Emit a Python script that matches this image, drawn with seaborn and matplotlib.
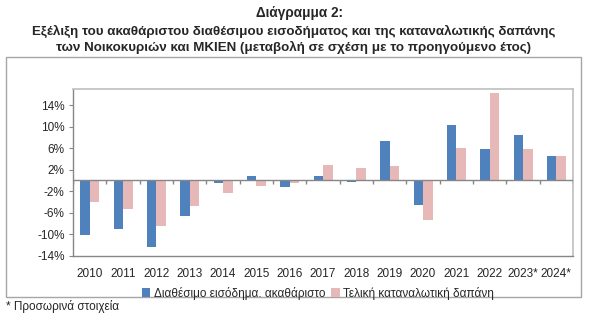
import matplotlib
matplotlib.use("Agg")
import matplotlib.pyplot as plt
import seaborn as sns
import pandas as pd
import numpy as np
from matplotlib.patches import Rectangle, Patch

years = ["2010", "2011", "2012", "2013", "2014", "2015", "2016", "2017",
         "2018", "2019", "2020", "2021", "2022", "2023*", "2024*"]
income = [-10.2, -9.1, -12.3, -6.6, -0.5, 0.8, -1.2, 0.8, -0.25, 7.3, -4.5, 10.3, 5.8, 8.5, 4.5]
spending = [-4.0, -5.3, -8.5, -4.8, -2.3, -1.0, -0.5, 2.8, 2.3, 2.7, -7.3, 6.1, 16.2, 5.8, 4.5]
series_names = ["Διαθέσιμο εισόδημα. ακαθάριστο", "Τελική καταναλωτική δαπάνη"]
yticks = [-14, -10, -6, -2, 2, 6, 10, 14]
colors = ["#4F81BD", "#E6B9B8"]

sns.set_style("white")
plt.rcParams["font.family"] = ["Liberation Sans", "DejaVu Sans"]

df = pd.DataFrame({
    "year": years * 2,
    "value": income + spending,
    "series": [series_names[0]] * len(years) + [series_names[1]] * len(years),
})

W, H = 599, 321
fig = plt.figure(figsize=(W / 100, H / 100), dpi=100)
ax = fig.add_axes([73 / W, (H - 255.7) / H, 500 / W, (255.7 - 89) / H])

sns.barplot(data=df, x="year", y="value", hue="series", palette=colors,
            width=0.57, ax=ax, legend=False, saturation=1, gap=0,
            edgecolor="none")

ax.set_ylim(-14, 17)
ax.set_xlim(-0.5, len(years) - 0.5)
ax.set_yticks(yticks)
ax.set_yticklabels([f"{t}%" for t in yticks], fontsize=8.5)
ax.set_xticks(range(len(years)))
ax.set_xticklabels(years, fontsize=8.5)
ax.tick_params(axis="x", length=0, pad=9)
ax.tick_params(axis="y", length=3, color="#868686", left=True, pad=3)
ax.set_xlabel("")
ax.set_ylabel("")

for s in ["left", "bottom"]:
    ax.spines[s].set_color("#868686")
    ax.spines[s].set_linewidth(1.0)
for s in ["top", "right"]:
    ax.spines[s].set_color("#BFBFBF")
    ax.spines[s].set_linewidth(1.2)

# zero axis line with category boundary ticks
ax.axhline(0, color="#868686", lw=1.0, zorder=3)
bounds = np.arange(len(years) + 1) - 0.5
ax.vlines(bounds, -0.6, 0, color="#868686", lw=1.0, zorder=3)

# legend
handles = [Patch(facecolor=c, edgecolor="none") for c in colors]
fig.legend(handles, series_names, loc="center", bbox_to_anchor=(318 / W, (H - 293) / H),
           ncol=2, frameon=False, fontsize=8.5, handlelength=0.7, handleheight=0.7,
           handletextpad=0.3, columnspacing=0.5, borderpad=0)

# outer chart border
fig.patches.append(Rectangle((6 / W, (H - 297) / H), 575 / W, 240 / H,
                             transform=fig.transFigure, fill=False,
                             edgecolor="#A6A6A6", lw=1.0))

# titles
fig.text(300 / W, 1 - 13 / H, "Διάγραμμα 2:", ha="center", va="center",
         fontsize=9.8, fontweight="bold")
fig.text(294 / W, 1 - 31.5 / H,
         "Εξέλιξη του ακαθάριστου διαθέσιμου εισοδήματος και της καταναλωτικής δαπάνης",
         ha="center", va="center", fontsize=9.6, fontweight="bold")
fig.text(294 / W, 1 - 47.5 / H,
         "των Νοικοκυριών και ΜΚΙΕΝ (μεταβολή σε σχέση με το προηγούμενο έτος)",
         ha="center", va="center", fontsize=9.6, fontweight="bold")
fig.text(6 / W, 1 - 306.5 / H, "* Προσωρινά στοιχεία", ha="left", va="center", fontsize=8.5)

fig.savefig("out.png", dpi=100)
